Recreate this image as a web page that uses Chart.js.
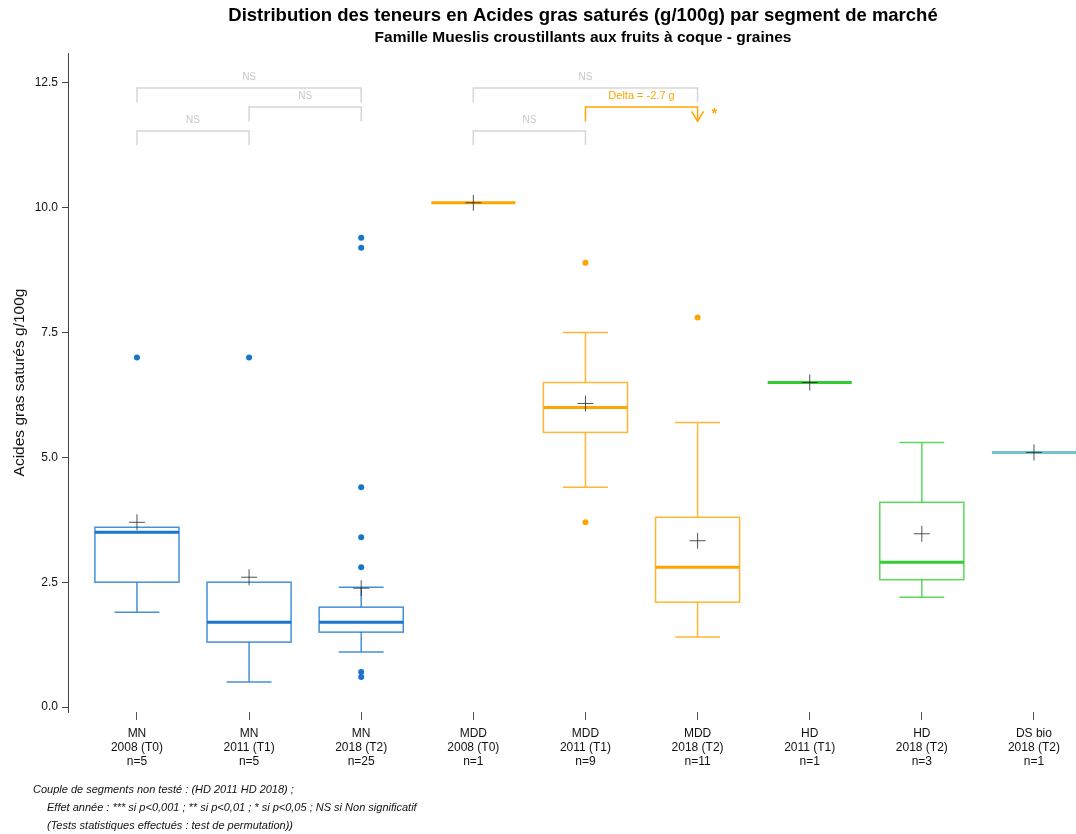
<!DOCTYPE html>
<html>
<head>
<meta charset="utf-8">
<script src="https://cdn.jsdelivr.net/npm/chart.js@4.4.1/dist/chart.umd.min.js"></script>
<style>
  html, body { margin: 0; padding: 0; background: #fff; }
</style>
</head>
<body>
<canvas id="chart" width="1076" height="834"></canvas>
<script>
const segments = ['MN', 'MN', 'MN', 'MDD', 'MDD', 'MDD', 'HD', 'HD', 'DS bio']
const years = ['2008 (T0)', '2011 (T1)', '2018 (T2)', '2008 (T0)', '2011 (T1)', '2018 (T2)', '2011 (T1)', '2018 (T2)', '2018 (T2)']
const counts = [5, 5, 25, 1, 9, 11, 1, 3, 1]

const whiskerLow = [1.9, 0.5, 1.1, 10.1, 4.4, 1.4, 6.5, 2.2, 5.1]
const q1 = [2.5, 1.3, 1.5, 10.1, 5.5, 2.1, 6.5, 2.55, 5.1]
const medians = [3.5, 1.7, 1.7, 10.1, 6.0, 2.8, 6.5, 2.9, 5.1]
const q3 = [3.6, 2.5, 2.0, 10.1, 6.5, 3.8, 6.5, 4.1, 5.1]
const whiskerHigh = [3.6, 2.5, 2.4, 10.1, 7.5, 5.7, 6.5, 5.3, 5.1]
const means = [3.7, 2.6, 2.38, 10.1, 6.08, 3.33, 6.5, 3.47, 5.1]
const outliers = [[7.0], [7.0], [9.4, 9.2, 4.4, 3.4, 2.8, 0.7, 0.6], [], [8.9, 3.7], [7.8], [], [], []]

const yTicks = [0, 2.5, 5, 7.5, 10, 12.5]

// paires testées : groupe de / à, niveau du crochet, étiquette
const brackets = [
    { from: 1, to: 3, level: 12.4, label: 'NS' },
    { from: 2, to: 3, level: 12.02, label: 'NS' },
    { from: 1, to: 2, level: 11.54, label: 'NS' },
    { from: 4, to: 6, level: 12.4, label: 'NS' },
    { from: 5, to: 6, level: 12.02, label: 'Delta = -2.7 g', star: '*' },
    { from: 4, to: 5, level: 11.54, label: 'NS' }
]

const footnotes = [
    'Couple de segments non testé : (HD 2011 HD 2018) ;',
    'Effet année : *** si p<0,001 ; ** si p<0,01 ; * si p<0,05 ; NS si Non significatif',
    '(Tests statistiques effectués : test de permutation))'
]

const blue = '#1874CD'
const orange = '#FFA500'
const green = '#32CD32'
const teal = '#72C3CB'
const colors = [blue, blue, blue, orange, orange, orange, green, green, teal]
const font = "'Liberation Sans', Arial, sans-serif"

const alpha = (hex, a) => {
    const n = parseInt(hex.slice(1), 16)
    return `rgba(${n >> 16}, ${(n >> 8) & 255}, ${n & 255}, ${a})`
}

const outlierPoints = []
const outlierColors = []
outliers.forEach((list, i) => {
    list.forEach(v => {
        outlierPoints.push({ x: i + 1, y: v })
        outlierColors.push(colors[i])
    })
})

const boxPlugin = {
    id: 'boxes',
    beforeDatasetsDraw(chart) {
        const { ctx, scales: { x, y } } = chart
        ctx.save()
        medians.forEach((m, i) => {
            const c = i + 1
            const left = x.getPixelForValue(c - 0.375)
            const right = x.getPixelForValue(c + 0.375)
            const mid = x.getPixelForValue(c)
            const capL = x.getPixelForValue(c - 0.2)
            const capR = x.getPixelForValue(c + 0.2)
            const col = colors[i]

            if (counts[i] === 1) {
                ctx.strokeStyle = col
                ctx.lineWidth = 3
                ctx.beginPath()
                ctx.moveTo(left, y.getPixelForValue(m))
                ctx.lineTo(right, y.getPixelForValue(m))
                ctx.stroke()
                return
            }

            const top = y.getPixelForValue(q3[i])
            const bottom = y.getPixelForValue(q1[i])
            ctx.strokeStyle = alpha(col, 0.8)
            ctx.lineWidth = 1.5

            // moustaches
            ctx.beginPath()
            if (whiskerHigh[i] > q3[i]) {
                const wh = y.getPixelForValue(whiskerHigh[i])
                ctx.moveTo(mid, top); ctx.lineTo(mid, wh)
                ctx.moveTo(capL, wh); ctx.lineTo(capR, wh)
            }
            if (whiskerLow[i] < q1[i]) {
                const wl = y.getPixelForValue(whiskerLow[i])
                ctx.moveTo(mid, bottom); ctx.lineTo(mid, wl)
                ctx.moveTo(capL, wl); ctx.lineTo(capR, wl)
            }
            ctx.stroke()

            ctx.strokeRect(left, top, right - left, bottom - top)

            ctx.strokeStyle = col
            ctx.lineWidth = 3
            ctx.beginPath()
            ctx.moveTo(left, y.getPixelForValue(m))
            ctx.lineTo(right, y.getPixelForValue(m))
            ctx.stroke()
        })
        ctx.restore()
    }
}

const annotationPlugin = {
    id: 'annotations',
    afterDraw(chart) {
        const { ctx, scales: { x, y } } = chart
        ctx.save()

        // titres
        ctx.fillStyle = '#000'
        ctx.textAlign = 'center'
        ctx.textBaseline = 'middle'
        ctx.font = `bold 18.5px ${font}`
        ctx.fillText('Distribution des teneurs en Acides gras saturés (g/100g) par segment de marché', 583, 16)
        ctx.font = `bold 15.5px ${font}`
        ctx.fillText('Famille Mueslis croustillants aux fruits à coque - graines', 583, 38)

        // crochets de comparaison
        brackets.forEach(b => {
            const col = b.star ? orange : '#D6D6D6'
            const x1 = x.getPixelForValue(b.from)
            const x2 = x.getPixelForValue(b.to)
            const yl = y.getPixelForValue(b.level)
            const yd = y.getPixelForValue(b.level - 0.29)
            ctx.strokeStyle = col
            ctx.lineWidth = 1.5
            ctx.beginPath()
            ctx.moveTo(x1, yd)
            ctx.lineTo(x1, yl)
            ctx.lineTo(x2, yl)
            ctx.lineTo(x2, yd)
            if (b.star) {
                ctx.moveTo(x2 - 6, yd - 10)
                ctx.lineTo(x2, yd)
                ctx.lineTo(x2 + 6, yd - 10)
            }
            ctx.stroke()

            ctx.fillStyle = b.star ? orange : '#C8C8C8'
            ctx.font = `${b.star ? 11 : 10}px ${font}`
            ctx.fillText(b.label, (x1 + x2) / 2, yl - 11)
            if (b.star) {
                ctx.font = `bold 14px ${font}`
                ctx.fillText(b.star, x2 + 17, yl + 7)
            }
        })

        // notes
        ctx.fillStyle = '#111'
        ctx.textAlign = 'left'
        ctx.font = `italic 11px ${font}`
        ctx.fillText(footnotes[0], 33, 790)
        ctx.fillText(footnotes[1], 47, 808)
        ctx.fillText(footnotes[2], 47, 826)

        ctx.restore()
    }
}

new Chart(document.getElementById('chart').getContext('2d'), {
    type: 'scatter',
    data: {
        datasets: [
            {
                label: 'outliers',
                data: outlierPoints,
                pointBackgroundColor: outlierColors,
                pointBorderColor: outlierColors,
                pointRadius: 3,
                pointBorderWidth: 0
            },
            {
                label: 'moyenne',
                data: means.map((v, i) => ({ x: i + 1, y: v })),
                pointStyle: 'cross',
                pointRadius: 8,
                pointBorderWidth: 1,
                pointBorderColor: 'rgba(40, 40, 40, 0.8)'
            }
        ]
    },
    options: {
        responsive: false,
        animation: false,
        layout: { autoPadding: false, padding: { top: 53, right: 0, bottom: 0, left: 0 } },
        plugins: {
            legend: { display: false },
            tooltip: { enabled: false }
        },
        scales: {
            x: {
                type: 'linear',
                min: 0.385,
                max: 9.375,
                afterBuildTicks: s => { s.ticks = segments.map((_, i) => ({ value: i + 1 })) },
                afterFit: s => {
                    s.height = 122
                    s.paddingLeft = 0
                    s.paddingRight = 0
                },
                border: { display: false },
                grid: { drawOnChartArea: false, drawTicks: true, tickLength: 8, color: '#555' },
                ticks: {
                    autoSkip: false,
                    maxRotation: 0,
                    padding: 7,
                    color: '#111',
                    font: { family: font, size: 12, lineHeight: 1.17 },
                    callback: v => {
                        const i = Math.round(v) - 1
                        return [segments[i], years[i], 'n=' + counts[i]]
                    }
                }
            },
            y: {
                min: -0.1,
                max: 13.1,
                afterBuildTicks: s => { s.ticks = yTicks.map(v => ({ value: v })) },
                afterFit: s => { s.width = 68 },
                border: { display: true, color: '#444', width: 1 },
                grid: { drawOnChartArea: false, drawTicks: true, tickLength: 6, color: '#444' },
                ticks: {
                    padding: 4,
                    color: '#111',
                    font: { family: font, size: 12 },
                    callback: v => v.toFixed(1)
                },
                title: {
                    display: true,
                    text: 'Acides gras saturés g/100g',
                    color: '#111',
                    font: { family: font, size: 15.5 },
                    padding: { top: 10, bottom: 0 }
                }
            }
        }
    },
    plugins: [boxPlugin, annotationPlugin]
})
</script>
</body>
</html>
